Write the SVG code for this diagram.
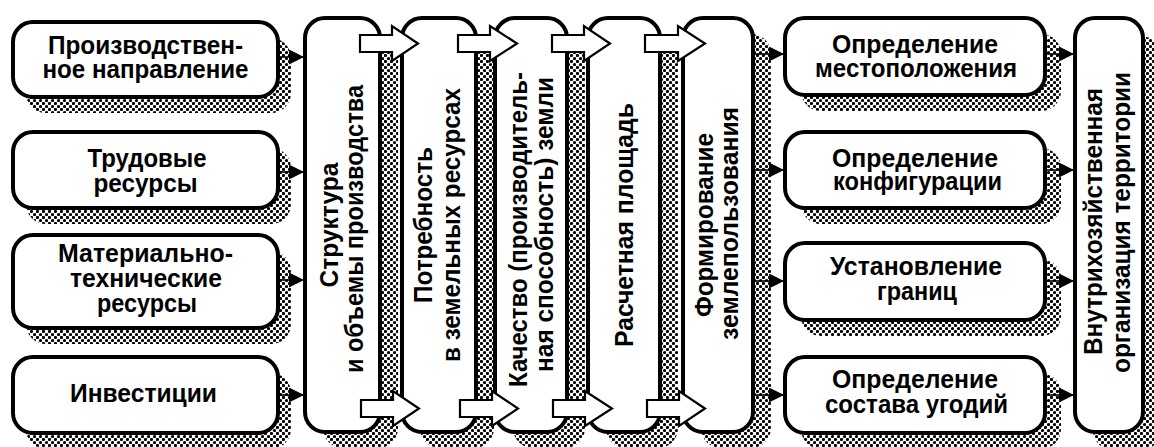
<svg xmlns="http://www.w3.org/2000/svg" width="1154" height="447" viewBox="0 0 1154 447">
<defs>
<pattern id="dots" width="6" height="6" patternUnits="userSpaceOnUse">
<circle cx="1.5" cy="1.5" r="1.6" fill="#000"/>
<circle cx="4.5" cy="4.5" r="1.6" fill="#000"/>
</pattern>
<marker id="ah" viewBox="0 0 10 10" refX="10" refY="5" markerWidth="15" markerHeight="15" markerUnits="userSpaceOnUse" orient="auto">
<path d="M0,0 L10,5 L0,10 Z" fill="#000"/>
</marker>
</defs>
<style>
.box{fill:#fff;stroke:#000;stroke-width:4}
.sh{fill:url(#dots);stroke:none}
.t{font-family:"Liberation Sans",Arial,sans-serif;font-weight:bold;font-size:25px;fill:#000;text-anchor:middle}
.ln{stroke:#000;stroke-width:1.6;fill:none;marker-end:url(#ah)}
.ba{fill:#fff;stroke:#000;stroke-width:2.2;stroke-linejoin:miter}
</style>
<rect width="1154" height="447" fill="#fff"/>

<g id="n-proizv">
<rect class="sh" x="26" y="38" width="265" height="75" rx="20"/>
<rect class="box" x="13" y="22" width="265" height="75" rx="20"/>
<text class="t" x="145.5" y="54" textLength="195" lengthAdjust="spacingAndGlyphs">Производствен-</text>
<text class="t" x="145.5" y="78" textLength="206" lengthAdjust="spacingAndGlyphs">ное направление</text>
</g>
<g id="n-trud">
<rect class="sh" x="26" y="148" width="265" height="76" rx="20"/>
<rect class="box" x="13" y="132" width="265" height="76" rx="20"/>
<text class="t" x="147" y="166.5" textLength="119" lengthAdjust="spacingAndGlyphs">Трудовые</text>
<text class="t" x="145.5" y="191.5" textLength="104" lengthAdjust="spacingAndGlyphs">ресурсы</text>
</g>
<g id="n-mat">
<rect class="sh" x="26" y="251" width="265" height="93" rx="20"/>
<rect class="box" x="13" y="235" width="265" height="93" rx="20"/>
<text class="t" x="145.5" y="262" textLength="175" lengthAdjust="spacingAndGlyphs">Материально-</text>
<text class="t" x="146" y="287" textLength="152" lengthAdjust="spacingAndGlyphs">технические</text>
<text class="t" x="147" y="312" textLength="100" lengthAdjust="spacingAndGlyphs">ресурсы</text>
</g>
<g id="n-invest">
<rect class="sh" x="26" y="373" width="265" height="76" rx="20"/>
<rect class="box" x="13" y="357" width="265" height="76" rx="20"/>
<text class="t" x="143.5" y="402" textLength="147" lengthAdjust="spacingAndGlyphs">Инвестиции</text>
</g>

<g id="v-struct">
<rect class="sh" x="323" y="34" width="75" height="414" rx="20"/>
<rect class="box" x="305" y="18" width="75" height="414" rx="20"/>
<text class="t" transform="translate(338,225) rotate(-90)" textLength="125" lengthAdjust="spacingAndGlyphs">Структура</text>
<text class="t" transform="translate(363,229) rotate(-90)" textLength="288" lengthAdjust="spacingAndGlyphs">и объемы производства</text>
</g>
<g id="v-potreb">
<rect class="sh" x="420" y="34" width="74" height="414" rx="20"/>
<rect class="box" x="402" y="18" width="74" height="414" rx="20"/>
<text class="t" transform="translate(432,225) rotate(-90)" textLength="156" lengthAdjust="spacingAndGlyphs">Потребность</text>
<text class="t" transform="translate(460,225) rotate(-90)" textLength="274" lengthAdjust="spacingAndGlyphs">в земельных ресурсах</text>
</g>
<g id="v-kach">
<rect class="sh" x="513" y="34" width="72" height="414" rx="20"/>
<rect class="box" x="495" y="18" width="72" height="414" rx="20"/>
<text class="t" transform="translate(527,229.5) rotate(-90)" textLength="315" lengthAdjust="spacingAndGlyphs">Качество (производитель-</text>
<text class="t" transform="translate(553,224.5) rotate(-90)" textLength="295" lengthAdjust="spacingAndGlyphs">ная способность) земли</text>
</g>
<g id="v-rasch">
<rect class="sh" x="606" y="34" width="72" height="414" rx="20"/>
<rect class="box" x="588" y="18" width="72" height="414" rx="20"/>
<text class="t" transform="translate(633,225) rotate(-90)" textLength="244" lengthAdjust="spacingAndGlyphs">Расчетная площадь</text>
</g>
<g id="v-form">
<rect class="sh" x="701" y="34" width="70" height="414" rx="20"/>
<rect class="box" x="683" y="18" width="70" height="414" rx="20"/>
<text class="t" transform="translate(713,225) rotate(-90)" textLength="184" lengthAdjust="spacingAndGlyphs">Формирование</text>
<text class="t" transform="translate(738,223.5) rotate(-90)" textLength="233" lengthAdjust="spacingAndGlyphs">землепользования</text>
</g>

<g id="r-mesto">
<rect class="sh" x="801" y="34" width="260" height="77" rx="20"/>
<rect class="box" x="785" y="18" width="260" height="77" rx="20"/>
<text class="t" x="915" y="53" textLength="166" lengthAdjust="spacingAndGlyphs">Определение</text>
<text class="t" x="916" y="77" textLength="202" lengthAdjust="spacingAndGlyphs">местоположения</text>
</g>
<g id="r-konf">
<rect class="sh" x="801" y="148" width="260" height="76" rx="20"/>
<rect class="box" x="785" y="132" width="260" height="76" rx="20"/>
<text class="t" x="915" y="167" textLength="166" lengthAdjust="spacingAndGlyphs">Определение</text>
<text class="t" x="917.5" y="190" textLength="169" lengthAdjust="spacingAndGlyphs">конфигурации</text>
</g>
<g id="r-gran">
<rect class="sh" x="801" y="259" width="260" height="77" rx="20"/>
<rect class="box" x="785" y="243" width="260" height="77" rx="20"/>
<text class="t" x="916" y="275" textLength="172" lengthAdjust="spacingAndGlyphs">Установление</text>
<text class="t" x="917" y="300" textLength="80" lengthAdjust="spacingAndGlyphs">границ</text>
</g>
<g id="r-sostav">
<rect class="sh" x="801" y="373" width="260" height="76" rx="20"/>
<rect class="box" x="785" y="357" width="260" height="76" rx="20"/>
<text class="t" x="915" y="388" textLength="166" lengthAdjust="spacingAndGlyphs">Определение</text>
<text class="t" x="916.5" y="413" textLength="183" lengthAdjust="spacingAndGlyphs">состава угодий</text>
</g>

<g id="v-vnutr">
<rect class="sh" x="1093" y="36" width="68" height="414" rx="20"/>
<rect class="box" x="1075" y="18" width="68" height="414" rx="20"/>
<text class="t" transform="translate(1102,221.5) rotate(-90)" textLength="267" lengthAdjust="spacingAndGlyphs">Внутрихозяйственная</text>
<text class="t" transform="translate(1130,222.5) rotate(-90)" textLength="301" lengthAdjust="spacingAndGlyphs">организация территории</text>
</g>

<g id="connectors">
<line class="ln" x1="280" y1="57" x2="304" y2="57"/>
<line class="ln" x1="280" y1="172" x2="304" y2="172"/>
<line class="ln" x1="280" y1="280" x2="304" y2="280"/>
<line class="ln" x1="280" y1="395" x2="304" y2="395"/>
<line class="ln" x1="755" y1="54" x2="784" y2="54"/>
<line class="ln" x1="755" y1="170" x2="784" y2="170"/>
<line class="ln" x1="755" y1="281" x2="784" y2="281"/>
<line class="ln" x1="755" y1="395" x2="784" y2="395"/>
<line class="ln" x1="1047" y1="54" x2="1074" y2="54"/>
<line class="ln" x1="1047" y1="170" x2="1074" y2="170"/>
<line class="ln" x1="1047" y1="281" x2="1074" y2="281"/>
<line class="ln" x1="1047" y1="395" x2="1074" y2="395"/>
<path class="ba" d="M360,35 H392 V26 L418,43.5 L392,61 V52 H360 Z"/>
<path class="ba" d="M458,35 H490 V26 L517,43.5 L490,61 V52 H458 Z"/>
<path class="ba" d="M552,35 H584 V26 L610,43.5 L584,61 V52 H552 Z"/>
<path class="ba" d="M645,35 H678 V26 L705,43.5 L678,61 V52 H645 Z"/>
<path class="ba" d="M361,400 H393 V391 L419,408.5 L393,426 V417 H361 Z"/>
<path class="ba" d="M460,400 H492 V391 L518,408.5 L492,426 V417 H460 Z"/>
<path class="ba" d="M553,400 H585 V391 L612,408.5 L585,426 V417 H553 Z"/>
<path class="ba" d="M647,400 H679 V391 L705,408.5 L679,426 V417 H647 Z"/>
</g>
</svg>
